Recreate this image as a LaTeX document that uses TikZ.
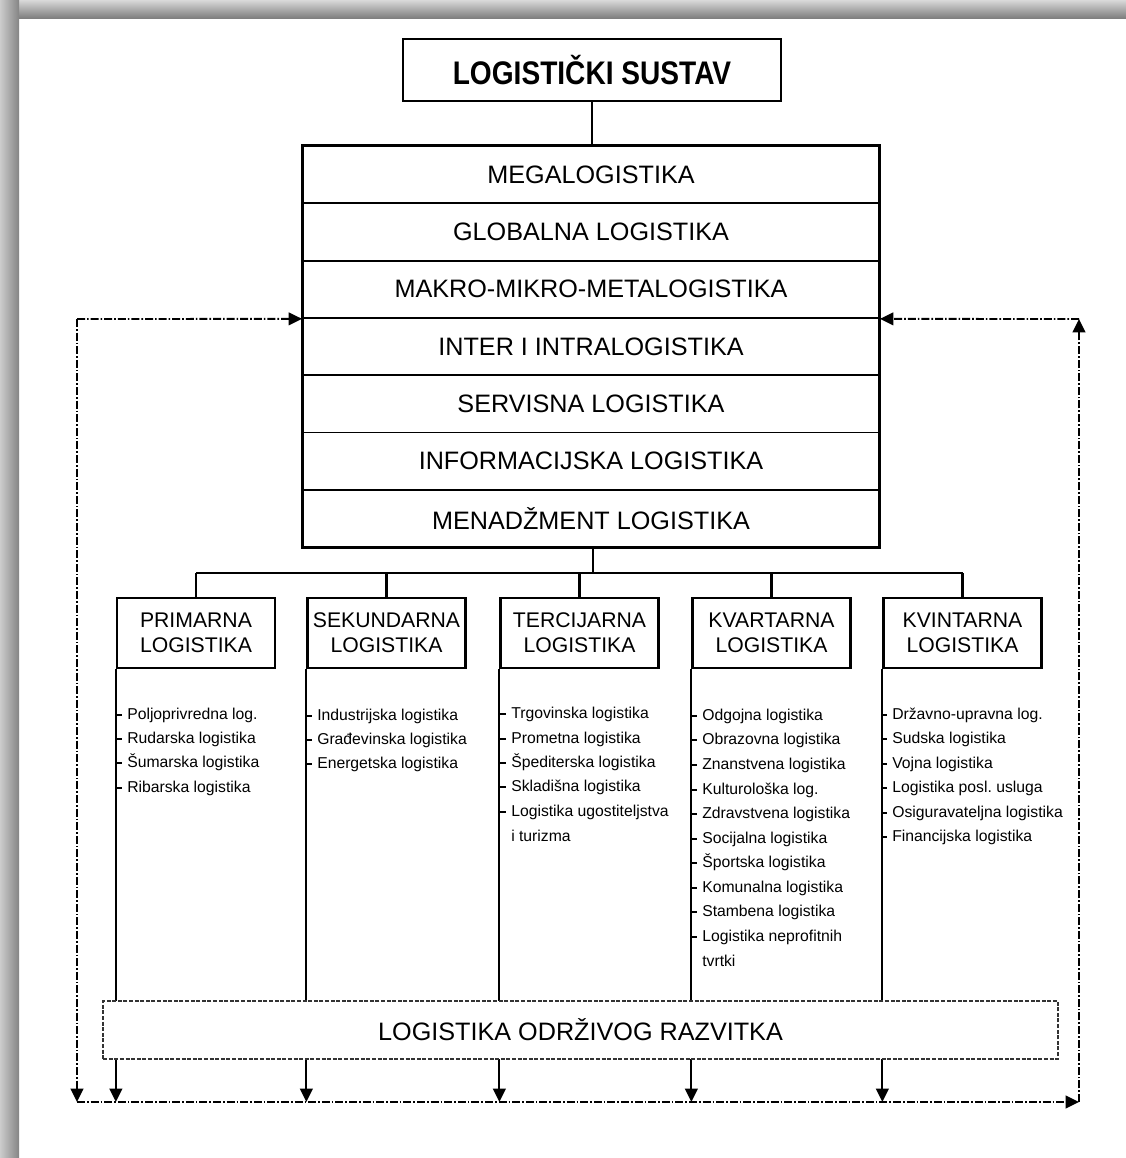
\documentclass[tikz,border=0pt]{standalone}
\usepackage{fontspec}
\setmainfont{Liberation Sans}
\newfontfamily\condfont[FakeStretch=0.86]{Liberation Sans}
\usetikzlibrary{arrows.meta}
\frenchspacing
\begin{document}
\begin{tikzpicture}[x=0.75pt,y=-0.75pt,
  titlebox/.style={draw, line width=2pt, inner sep=0pt, minimum width=283.5pt, minimum height=46.5pt,
    font=\condfont\bfseries\fontsize{24.5pt}{28pt}\selectfont},
  rowbox/.style={draw, line width=1.4pt, inner sep=0pt, minimum width=432pt, minimum height=43pt,
    font=\fontsize{18.9pt}{22pt}\selectfont},
  levelbox/.style={draw, line width=1.7pt, inner sep=0pt, minimum width=118.5pt, minimum height=52.5pt,
    align=center, font=\fontsize{15.9pt}{18.75pt}\selectfont},
  susbox/.style={draw=black!80, line width=1.1pt, dash pattern=on 3pt off 1.2pt, fill=white, inner sep=0pt,
    minimum width=716pt, minimum height=43.5pt, font=\fontsize{18.9pt}{22pt}\selectfont},
  itemtext/.style={anchor=west, inner sep=0pt, text height=8.6pt, text depth=2.6pt,
    font=\fontsize{11.8pt}{14pt}\selectfont},
  conn/.style={line width=1.6pt},
  tree/.style={line width=1.6pt, -{Triangle[length=10pt,width=9.5pt]}},
  loopline/.style={line width=1.4pt, dash pattern=on 6pt off 1.5pt on 1.2pt off 1.5pt,
    -{Triangle[length=10pt,width=9.5pt]}},
  tick/.style={line width=1pt}
]
\useasboundingbox (0,0) rectangle (1126,1158);
\fill[white] (0,0) rectangle (1126,1158);
% frame
\shade[top color=black!15, bottom color=black!50] (0,0) rectangle (1126,18);
\shade[left color=black!20, right color=black!48] (0,0) rectangle (19,1158);

% title
\node[titlebox] (top) at (592,70) {LOGISTIČKI SUSTAV};

% stack
\node[rowbox] (r1) at (591,174.65) {MEGALOGISTIKA};
\node[rowbox] (r2) at (591,231.95) {GLOBALNA LOGISTIKA};
\node[rowbox] (r3) at (591,289.25) {MAKRO-MIKRO-METALOGISTIKA};
\node[rowbox] (r4) at (591,346.55) {INTER I INTRALOGISTIKA};
\node[rowbox] (r5) at (591,403.85) {SERVISNA LOGISTIKA};
\node[rowbox] (r6) at (591,461.15) {INFORMACIJSKA LOGISTIKA};
\node[rowbox] (r7) at (591,518.45) {MENADŽMENT LOGISTIKA};
\draw[line width=1.8pt] (r1.north west) rectangle (r7.south east);

\draw[conn] (top.south) -- (top.south |- r1.north);

% level boxes
\node[levelbox] (l1) at (196,633) {PRIMARNA\\LOGISTIKA};
\node[levelbox] (l2) at (386.5,633) {SEKUNDARNA\\LOGISTIKA};
\node[levelbox] (l3) at (579.5,633) {TERCIJARNA\\LOGISTIKA};
\node[levelbox] (l4) at (771.5,633) {KVARTARNA\\LOGISTIKA};
\node[levelbox] (l5) at (962.5,633) {KVINTARNA\\LOGISTIKA};

\coordinate (bus) at (593,573);
\draw[conn] (bus |- r7.south) -- (bus);
\draw[conn] (l1.north |- bus) -- (l5.north |- bus);
\foreach \k in {1,...,5} {\draw[conn] (l\k.north |- bus) -- (l\k.north);}

% loop corners
\coordinate (TL) at (77,319);
\coordinate (BL) at (77,1102);
\coordinate (BR) at (1079,1102);
\coordinate (TR) at (1079,319);

% vertical lines from the level boxes
\foreach \k in {1,...,5} {\draw[tree] (l\k.south west) -- (l\k.south west |- BL);}

% sustainable development box
\node[susbox] (sus) at (580.5,1030) {LOGISTIKA ODRŽIVOG RAZVITKA};

% dash-dot loop
\draw[loopline] (TL) -- (r3.south west);
\draw[loopline] (TL) -- (BL);
\draw[loopline] (BL) -- (BR);
\draw[loopline] (BR) -- (TR);
\draw[loopline] (TR) -- (r3.south east);

% item lists
\foreach [count=\i] \t/\y/\m in {Poljoprivredna log./715/1, Rudarska logistika/739/1,
    Šumarska logistika/763/1, Ribarska logistika/788/1} {
  \node[itemtext] (a\i) at (127,\y) {\t};
  \ifnum\m=1 \draw[tick] (a\i.west) ++(-11,0) -- ++(6,0); \fi }
\foreach [count=\i] \t/\y/\m in {Industrijska logistika/716/1, Građevinska logistika/740/1,
    Energetska logistika/764/1} {
  \node[itemtext] (b\i) at (317,\y) {\t};
  \ifnum\m=1 \draw[tick] (b\i.west) ++(-11,0) -- ++(6,0); \fi }
\foreach [count=\i] \t/\y/\m in {Trgovinska logistika/714/1, Prometna logistika/739/1,
    Špediterska logistika/763/1, Skladišna logistika/787/1, Logistika ugostiteljstva/812/1,
    i turizma/837/0} {
  \node[itemtext] (c\i) at (511,\y) {\t};
  \ifnum\m=1 \draw[tick] (c\i.west) ++(-11,0) -- ++(6,0); \fi }
\foreach [count=\i] \t/\y/\m in {Odgojna logistika/716/1, Obrazovna logistika/740/1,
    Znanstvena logistika/765/1, Kulturološka log./790/1, Zdravstvena logistika/814/1,
    Socijalna logistika/839/1, Športska logistika/863/1, Komunalna logistika/888/1,
    Stambena logistika/912/1, Logistika neprofitnih/937/1, tvrtki/962/0} {
  \node[itemtext] (d\i) at (702,\y) {\t};
  \ifnum\m=1 \draw[tick] (d\i.west) ++(-11,0) -- ++(6,0); \fi }
\foreach [count=\i] \t/\y/\m in {Državno-upravna log./715/1, Sudska logistika/739/1,
    Vojna logistika/764/1, Logistika posl. usluga/788/1, Osiguravateljna logistika/813/1,
    Financijska logistika/837/1} {
  \node[itemtext] (e\i) at (892,\y) {\t};
  \ifnum\m=1 \draw[tick] (e\i.west) ++(-11,0) -- ++(6,0); \fi }
\end{tikzpicture}
\end{document}
